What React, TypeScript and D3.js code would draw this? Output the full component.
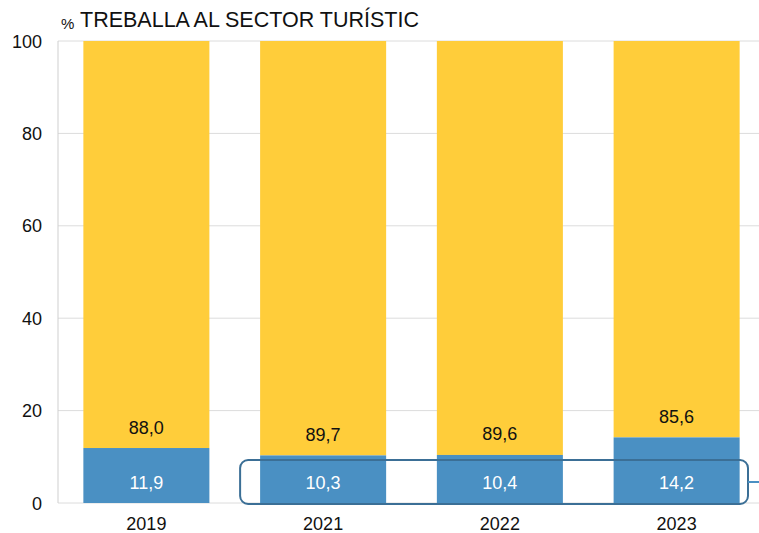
import React from "react";
import * as d3 from "d3";

const years = ["2019", "2021", "2022", "2023"];
const blueValues = [11.9, 10.3, 10.4, 14.2];
const yellowValues = [88.0, 89.7, 89.6, 85.6];
const yTicks = [0, 20, 40, 60, 80, 100];

const W = 759;
const H = 533;
const left = 58;
const top = 41;
const bottom = 503;

export default function App() {
  const x = d3.scaleBand<string>().domain(years).range([left, 765]).paddingInner(0.287).paddingOuter(0.1435);
  const y = d3.scaleLinear().domain([0, 100]).range([bottom, top]);
  const fmt = (v: number) => v.toFixed(1).replace(".", ",");
  const font = "Liberation Sans, Arial, sans-serif";
  const hx0 = x("2021")! - 20;
  const hx1 = 748;
  return (
    <svg width={W} height={H} style={{ position: "absolute", left: 0, top: 0, fontFamily: font }}>
      <text x={61} y={29} fontSize={15} fill="#111">%</text>
      <text x={80} y={27} fontSize={21.5} fill="#111">TREBALLA AL SECTOR TURÍSTIC</text>
      {yTicks.map((t) => (
        <g key={t}>
          <line x1={left} x2={W} y1={y(t)} y2={y(t)} stroke="#dcdcdc" strokeWidth={1} />
          <text x={42} y={y(t) + 6.5} fontSize={18} textAnchor="end" fill="#111">{t}</text>
        </g>
      ))}
      <line x1={left} x2={left} y1={top} y2={bottom} stroke="#cfcfcf" />
      {years.map((yr, i) => {
        const bx = x(yr)!;
        const bw = x.bandwidth();
        const b = blueValues[i];
        const yl = yellowValues[i];
        return (
          <g key={yr}>
            <rect x={bx} width={bw} y={y(100)} height={y(b) - y(100)} fill="#FFCD3A" />
            <rect x={bx} width={bw} y={y(b)} height={y(0) - y(b)} fill="#4A90C3" />
            <text x={bx + bw / 2} y={y(b) - 14.5} fontSize={18} textAnchor="middle" fill="#111">{fmt(yl)}</text>
            <text x={bx + bw / 2} y={bottom - 14.5} fontSize={18} textAnchor="middle" fill="#fff">{fmt(b)}</text>
            <text x={bx + bw / 2} y={530} fontSize={18} textAnchor="middle" fill="#111">{yr}</text>
          </g>
        );
      })}
      <rect x={hx0} y={460} width={hx1 - hx0} height={44} rx={8} fill="none" stroke="#3B6F96" strokeWidth={2} />
      <line x1={hx1} x2={W} y1={482} y2={482} stroke="#4A90C3" strokeWidth={2} />
    </svg>
  );
}
